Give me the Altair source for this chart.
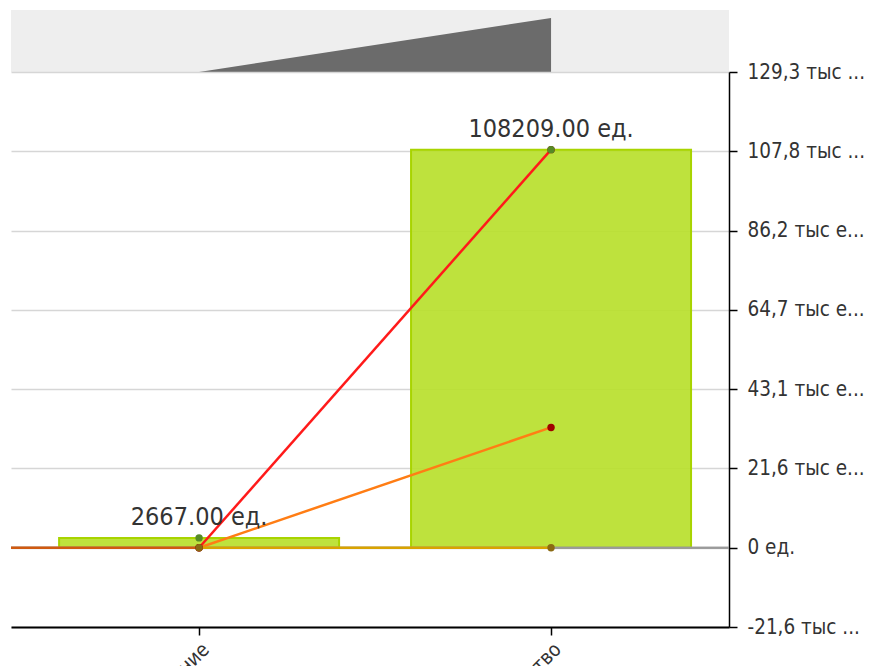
import altair as alt
import pandas as pd

# Categories and series values
categories = ["Потребление", "Производство"]
bar_values = [2667, 108209]          # bar series (labelled)
red_values = [0, 108209]
orange_values = [0, 32700]
gold_values = [0, 0]
series_names = ["red", "orange", "gold"]
line_colors = ["#ff1a1a", "#ff7d14", "#d9a300"]
point_colors = ["#990000", "#a00000", "#8a6a12"]

# Y axis ticks and their labels
y_ticks = [-21553, 0, 21553, 43106, 64659, 86212, 107765, 129318]
y_tick_labels = ["-21,6 тыс ...", "0 ед.", "21,6 тыс е...", "43,1 тыс е...",
                 "64,7 тыс е...", "86,2 тыс е...", "107,8 тыс ...", "129,3 тыс ..."]

FONT = "DejaVu Sans Condensed, DejaVu Sans"
W, H_MAIN, H_NAV = 718, 555, 62

bars = pd.DataFrame({"cat": categories, "v": bar_values,
                     "label": [f"{v:.2f} ед." for v in bar_values]})
lines = pd.DataFrame([
    {"cat": c, "v": v, "s": s}
    for s, vals in zip(series_names, [red_values, orange_values, gold_values])
    for c, v in zip(categories, vals)
])
nav = pd.DataFrame({"cat": categories, "v": red_values})

x_scale = alt.Scale(type="band", domain=categories, paddingInner=0,
                    paddingOuter=0.02, align=0.86)
y_scale = alt.Scale(domain=[y_ticks[0], y_ticks[-1]], nice=False, zero=False)

label_expr = ""
for val, lab in zip(y_ticks, y_tick_labels):
    label_expr += f"datum.value == {val} ? '{lab}' : "
label_expr += "''"

y_axis = alt.Axis(orient="right", values=y_ticks, labelExpr=label_expr, title=None,
                  labelFontSize=20.5, labelColor="#333333", labelFont=FONT,
                  labelPadding=10, tickSize=8, tickColor="#000000", tickWidth=1.5,
                  domainColor="#000000", domainWidth=1.5,
                  gridColor="#d6d6d6", gridWidth=1.5)
x_axis = alt.Axis(title=None, labelAngle=-45, labelFontSize=20, labelFont=FONT,
                  labelColor="#333333", tickSize=8, tickColor="#000000", tickWidth=1.5,
                  domainColor="#000000", domainWidth=2, grid=False, labelPadding=4)

base_bar = alt.Chart(bars)
bar_layer = base_bar.mark_bar(size=280, fill="#b8df2c", fillOpacity=0.92,
                              stroke="#a8d400", strokeWidth=2).encode(
    x=alt.X("cat:N", scale=x_scale, axis=x_axis, sort=categories),
    y=alt.Y("v:Q", scale=y_scale, axis=y_axis),
    y2=alt.datum(0),
)

zero_rule = alt.Chart(bars).mark_rule(color="#9a9a9a", strokeWidth=2).encode(
    y=alt.datum(0)
)

# zero-level segment running in from the left edge to the first category
left_seg = alt.Chart(bars.head(1)).mark_rule(color="#d05a10", strokeWidth=2.5).encode(
    x=alt.X("cat:N", scale=x_scale, sort=categories),
    x2=alt.value(0),
    y=alt.datum(0),
)

color_scale = alt.Scale(domain=series_names, range=line_colors)
line_layer = alt.Chart(lines).mark_line(strokeWidth=2.5).encode(
    x=alt.X("cat:N", scale=x_scale, sort=categories),
    y=alt.Y("v:Q", scale=y_scale),
    color=alt.Color("s:N", scale=color_scale, legend=None),
)
point_layer = alt.Chart(lines).mark_circle(size=55, opacity=1).encode(
    x=alt.X("cat:N", scale=x_scale, sort=categories),
    y=alt.Y("v:Q", scale=y_scale),
    fill=alt.Fill("s:N", scale=alt.Scale(domain=series_names, range=point_colors),
                  legend=None),
)
bar_markers = base_bar.mark_circle(size=55, color="#568a26", opacity=1).encode(
    x=alt.X("cat:N", scale=x_scale, sort=categories),
    y=alt.Y("v:Q", scale=y_scale),
)
value_text = base_bar.mark_text(font=FONT, fontSize=25, color="#333333",
                                baseline="bottom", dy=-8).encode(
    x=alt.X("cat:N", scale=x_scale, sort=categories),
    y=alt.Y("v:Q", scale=y_scale),
    text="label:N",
)

main = alt.layer(
    bar_layer, zero_rule, left_seg, line_layer, point_layer, bar_markers, value_text
).properties(width=W, height=H_MAIN, view=alt.ViewBackground(strokeWidth=0))

# small overview strip above the plot
navigator = alt.Chart(nav).mark_area(color="#6b6b6b", opacity=1).encode(
    x=alt.X("cat:N", scale=x_scale, axis=None, sort=categories),
    y=alt.Y("v:Q", scale=alt.Scale(domain=[0, 124000], nice=False), axis=None),
).properties(width=W, height=H_NAV,
             view=alt.ViewBackground(fill="#eeeeee", strokeWidth=0))

chart = alt.vconcat(navigator, main, spacing=0, bounds="flush").resolve_scale(
    x="shared", y="independent"
).configure_view(strokeWidth=0).configure(font=FONT).properties(
    padding={"left": 9, "top": 10, "right": 5, "bottom": 5}
)

chart.save("out.html", embed_options={"renderer": "svg", "actions": False})
